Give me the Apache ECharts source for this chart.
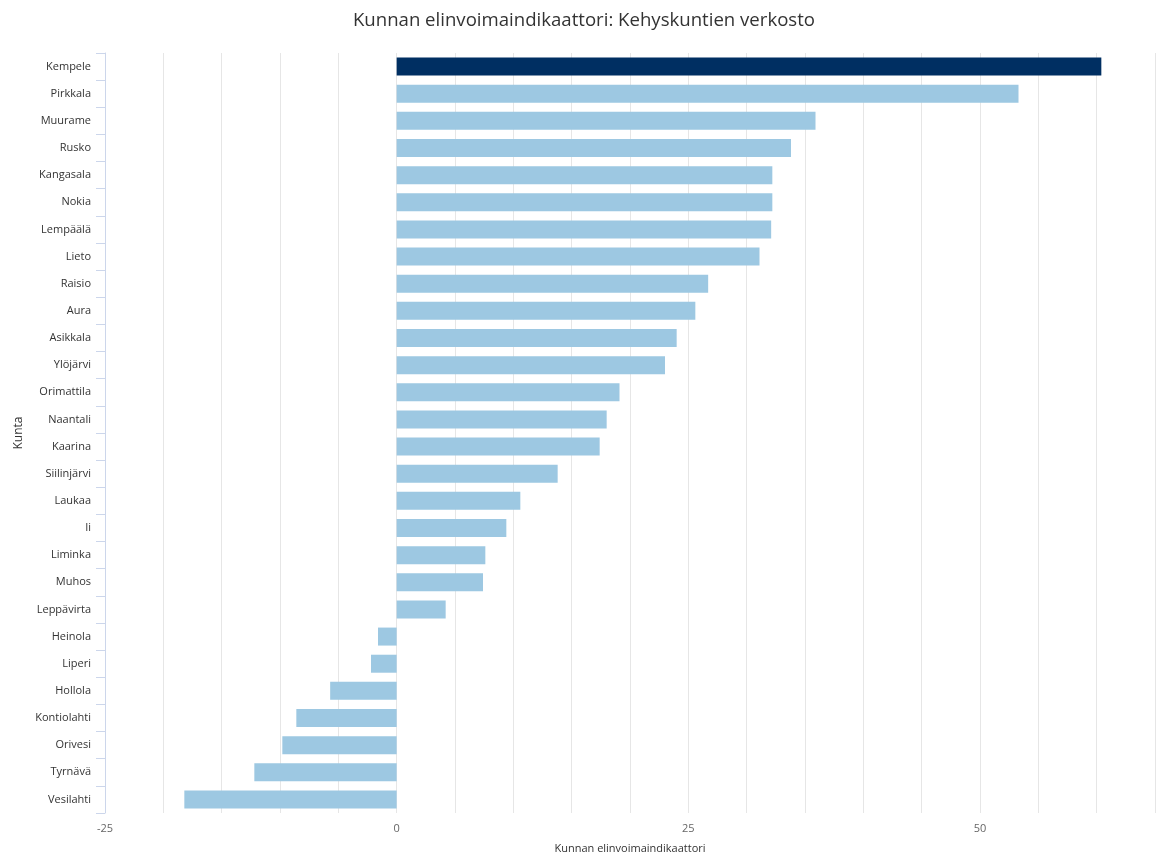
<!DOCTYPE html>
<html>
<head>
<meta charset="utf-8">
<script src="https://cdn.jsdelivr.net/npm/echarts@6/dist/echarts.min.js"></script>
<style>html,body{margin:0;padding:0;background:#fff}#c{width:1168px;height:859px}</style>
</head>
<body>
<div id="c"></div>
<script>
const categories = ["Kempele","Pirkkala","Muurame","Rusko","Kangasala","Nokia","Lempäälä","Lieto","Raisio","Aura","Asikkala","Ylöjärvi","Orimattila","Naantali","Kaarina","Siilinjärvi","Laukaa","Ii","Liminka","Muhos","Leppävirta","Heinola","Liperi","Hollola","Kontiolahti","Orivesi","Tyrnävä","Vesilahti"];
const values = [60.4,53.3,35.9,33.8,32.2,32.2,32.1,31.1,26.7,25.6,24.0,23.0,19.1,18.0,17.4,13.8,10.6,9.4,7.6,7.4,4.2,-1.6,-2.2,-5.7,-8.6,-9.8,-12.2,-18.2];
const highlighted = "Kempele";
const xTickLabels = [-25,0,25,50];

const chart = echarts.init(document.getElementById('c'));
const font = '"Open Sans", "DejaVu Sans", sans-serif';
chart.setOption({
  animation: false,
  title: {
    text: 'Kunnan elinvoimaindikaattori: Kehyskuntien verkosto',
    left: 'center', top: 6,
    textStyle: {fontFamily: font, fontSize: 18.6, fontWeight: 'normal', color: '#333333'}
  },
  grid: {left: 105, right: 13, top: 53, bottom: 45, containLabel: false},
  xAxis: {
    type: 'value', min: -25, max: 65, interval: 5,
    name: 'Kunnan elinvoimaindikaattori', nameLocation: 'middle', nameGap: 30,
    nameTextStyle: {fontFamily: font, fontSize: 11, color: '#333333'},
    axisLine: {show: false}, axisTick: {show: false},
    splitLine: {show: true, lineStyle: {color: '#e6e6e6', width: 1}},
    axisLabel: {
      fontFamily: font, fontSize: 11, color: '#666666', margin: 10,
      formatter: v => xTickLabels.includes(v) ? String(v) : ''
    }
  },
  yAxis: {
    type: 'category', data: categories, inverse: true,
    name: 'Kunta', nameLocation: 'middle', nameGap: 79, nameRotate: 90,
    nameTextStyle: {fontFamily: font, fontSize: 12, color: '#333333'},
    axisLine: {show: true, onZero: false, lineStyle: {color: '#ccd6eb', width: 1}},
    axisTick: {show: true, length: 9, lineStyle: {color: '#ccd6eb'}},
    axisLabel: {fontFamily: font, fontSize: 11, color: '#333333', margin: 14},
    splitLine: {show: false}
  },
  series: [{
    type: 'bar',
    barWidth: 18,
    data: values.map((v, i) => ({
      value: v,
      itemStyle: {color: categories[i] === highlighted ? '#002f62' : '#9dc8e2'}
    }))
  }]
});
</script>
</body>
</html>
